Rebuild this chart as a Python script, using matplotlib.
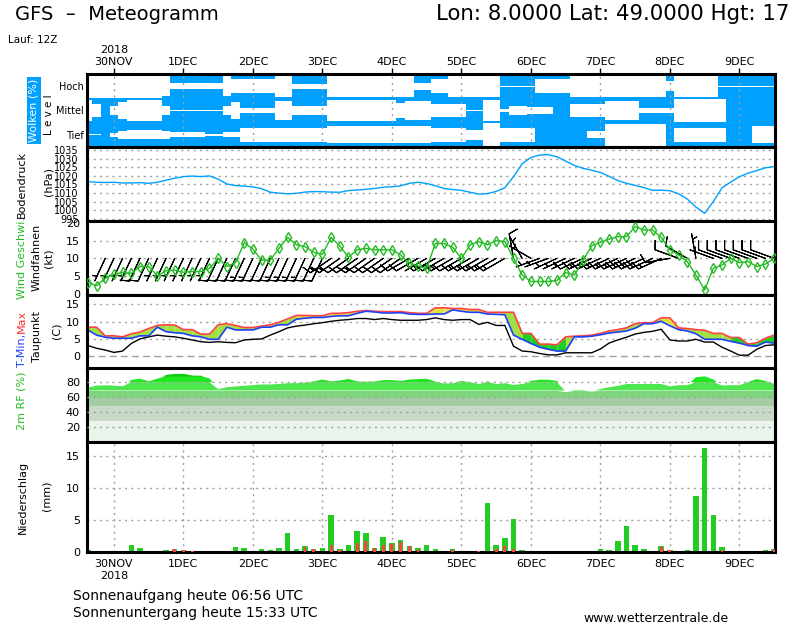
import numpy as np
import matplotlib
matplotlib.use('Agg')
import matplotlib.pyplot as plt
from matplotlib import font_manager

# forecast steps: hours from 30NOV 00Z, 3-hourly (29NOV 15Z .. 9DEC 12Z)
hours = np.arange(-9, 229, 3)
day_ticks = np.arange(0, 217, 24)
day_labels = ['30NOV', '1DEC', '2DEC', '3DEC', '4DEC', '5DEC', '6DEC', '7DEC', '8DEC', '9DEC']

# cloud cover per level (0..1)
cloud_high = [0.05]*9 + [0.2] + [0.75]*6 + [0.2] + [0.45]*5 + [0.1]*2 + [0.8]*4 + [0.12]*10 + \
             [0.7]*2 + [0.45]*2 + [0.1]*6 + [0.95]*4 + [0.45]*4 + [0.1]*11 + [0.6] + [0.15]*5 + [0.95]*7
cloud_mid = [0.1, 0.5, 1.0, 0.65, 0.3] + [0.15]*4 + [0.6] + [0.95]*6 + [0.65, 0.3, 0.8] + [0.8]*3 + \
            [0.25]*2 + [0.65]*4 + [0.15]*8 + [0.4] + [0.2]*3 + [0.45]*4 + [0.95]*2 + [0.1]*2 + [0.9] + \
            [0.6]*2 + [0.7]*3 + [1.0]*2 + [0.45]*4 + [0.25]*4 + [0.8]*4 + [0.05]*6 + [1.0]*6
cloud_low = [0.97]*2 + [1.0, 0.85, 0.65] + [0.62]*4 + [0.65] + [0.8]*4 + [0.9]*2 + [0.8]*2 + [0.45]*6 + \
            [0.4]*4 + [0.3]*8 + [0.3]*4 + [0.4]*4 + [0.6]*2 + [0.05]*2 + [0.4]*4 + [1.0]*6 + [0.7]*2 + \
            [0.1]*7 + [1.0] + [0.45]*6 + [1.0]*3 + [0.3]*3

pressure = [1016.6, 1016.2, 1016.1, 1016.2, 1015.8, 1015.8, 1016.0, 1015.6, 1016.2, 1017.4,
            1018.6, 1019.5, 1019.8, 1019.5, 1019.9, 1018.0, 1015.2, 1014.3, 1014.0, 1013.5,
            1012.5, 1010.4, 1009.9, 1009.5, 1009.8, 1010.5, 1010.8, 1010.7, 1010.5, 1010.4,
            1011.4, 1011.7, 1012.1, 1012.6, 1013.3, 1013.6, 1014.1, 1015.6, 1016.2, 1015.5,
            1014.2, 1012.6, 1012.0, 1011.5, 1010.4, 1009.3, 1009.6, 1010.9, 1013.0, 1019.5,
            1027.0, 1030.6, 1032.0, 1032.3, 1031.0, 1028.5, 1026.0, 1024.3, 1023.2, 1021.9,
            1019.7, 1017.2, 1015.6, 1014.4, 1013.1, 1011.5, 1011.6, 1011.3, 1009.5, 1006.5,
            1001.8, 998.2, 1005.0, 1013.0, 1016.3, 1019.4, 1021.5, 1023.0, 1024.6, 1025.3]

wind_speed = [3.2, 2.3, 4.4, 5.5, 6.1, 5.8, 7.7, 7.7, 5.1, 6.5,
              6.7, 6.1, 6.3, 6.3, 7.2, 10.0, 7.7, 8.8, 14.4, 12.6,
              9.5, 9.5, 12.8, 15.9, 13.8, 13.3, 11.7, 11.1, 15.9, 13.5,
              10.3, 12.4, 12.8, 12.4, 12.4, 12.4, 11.0, 8.6, 7.9, 7.2,
              14.2, 14.2, 13.1, 10.0, 13.8, 14.7, 13.8, 15.0, 14.7, 10.0,
              5.3, 3.5, 3.5, 3.5, 3.8, 6.0, 5.3, 9.4, 13.5, 14.5,
              15.4, 16.1, 16.1, 18.9, 18.0, 18.0, 15.9, 12.4, 11.0, 9.1,
              5.3, 1.1, 7.2, 8.1, 10.0, 8.8, 9.1, 7.7, 8.4, 10.0]
wind_dir = [200]*2 + [205]*26 + [235]*9 + [240]*12 + [350, 330, 300, 250, 250] + [245]*13 + \
           [260, 290, 300, 350, 180] + [290]*8

t_max = [8.4, 8.4, 5.9, 5.9, 5.6, 6.5, 7.0, 8.0, 8.9, 9.1,
         9.0, 7.7, 7.7, 6.4, 6.4, 9.1, 9.4, 8.9, 8.3, 8.3,
         8.7, 9.1, 9.8, 10.8, 11.8, 11.8, 11.7, 11.7, 12.4, 12.4,
         12.6, 13.0, 13.2, 13.0, 12.9, 12.9, 12.9, 12.6, 12.4, 12.4,
         14.0, 14.0, 13.8, 13.8, 13.5, 13.5, 12.7, 12.7, 12.7, 12.7,
         6.6, 6.6, 3.5, 3.5, 3.3, 5.6, 5.8, 5.9, 6.1, 6.6,
         7.3, 7.7, 8.2, 9.4, 9.7, 9.7, 11.1, 11.1, 8.2, 8.0,
         7.7, 7.5, 6.6, 6.6, 5.4, 5.4, 3.5, 3.9, 5.2, 6.1]
t_min = [7.6, 6.1, 5.5, 5.2, 5.2, 5.2, 5.9, 5.9, 8.4, 7.1,
         6.8, 6.6, 5.9, 5.6, 4.9, 4.9, 8.4, 7.6, 7.6, 7.6,
         8.4, 8.4, 9.1, 9.1, 10.7, 11.0, 11.2, 11.2, 11.5, 11.7,
         11.7, 12.4, 13.0, 12.8, 12.5, 12.5, 12.6, 12.2, 12.1, 12.1,
         12.2, 12.2, 13.4, 13.0, 12.7, 12.7, 12.2, 12.1, 12.0, 6.1,
         4.9, 3.7, 2.6, 2.0, 1.5, 1.5, 5.6, 5.6, 5.8, 6.2,
         6.7, 7.0, 7.3, 8.1, 9.4, 9.4, 10.1, 8.8, 7.7, 7.3,
         6.5, 4.9, 4.9, 4.9, 4.3, 3.8, 3.1, 2.9, 4.1, 3.8]
dewpoint = [3.1, 2.3, 1.8, 1.1, 1.5, 3.7, 5.0, 5.6, 6.1, 5.8,
            5.6, 5.2, 4.7, 4.2, 4.0, 4.2, 4.0, 3.9, 4.7, 4.9,
            5.0, 6.1, 7.1, 8.2, 8.7, 9.0, 9.4, 9.7, 10.1, 10.4,
            10.6, 10.9, 10.9, 10.6, 10.9, 10.6, 10.4, 10.4, 10.4, 10.6,
            11.1, 10.6, 10.4, 10.6, 10.6, 9.2, 9.8, 8.9, 8.9, 2.9,
            1.5, 1.3, 0.8, 0.4, 0.4, 1.0, 1.0, 1.0, 1.0, 2.1,
            3.8, 4.7, 5.5, 6.4, 6.9, 7.2, 7.8, 4.7, 4.4, 4.4,
            4.9, 4.1, 4.1, 2.6, 1.5, 0.3, 0.3, 2.0, 3.1, 3.3]
# fill colour between T-Min and T-Max for each 3h interval
t_fill = 'l'*24 + 'y'*24 + 'l'*2 + 'g'*5 + 'l'*11 + 'y'*2 + 'l'*6 + 'g'*5

rel_hum = [72.8, 75.5, 75.8, 75.5, 74.6, 83.0, 84.7, 81.3, 84.7, 90.6,
           91.8, 91.8, 89.5, 89.3, 85.1, 70.6, 73.3, 74.3, 75.3, 76.0,
           77.0, 77.0, 77.6, 78.7, 78.7, 79.5, 81.0, 83.6, 81.0, 82.3,
           84.4, 81.0, 80.7, 81.0, 82.8, 82.8, 81.7, 83.6, 84.2, 84.6,
           81.0, 78.3, 78.7, 81.7, 80.0, 77.6, 81.3, 77.6, 78.6, 76.3,
           77.6, 81.7, 83.3, 83.3, 81.7, 67.5, 69.8, 69.8, 68.2, 70.9,
           73.3, 75.0, 77.6, 77.6, 77.6, 77.6, 77.6, 74.4, 76.0, 76.0,
           86.7, 87.8, 83.6, 75.7, 76.0, 76.0, 80.4, 84.2, 81.7, 78.3]

precip = [0.3, 0, 0, 0, 0, 1.1, 0.65, 0, 0, 0.3,
          0.47, 0.3, 0.1, 0, 0, 0, 0, 0.78, 0.62, 0,
          0.47, 0.31, 0.62, 2.95, 0.47, 0.93, 0.47, 0.62, 5.75, 0.47,
          1.09, 3.32, 2.95, 0.62, 2.33, 1.4, 1.87, 0.93, 0.62, 1.09,
          0.47, 0, 0.47, 0, 0, 0, 7.67, 1.09, 2.18, 5.13,
          0.31, 0, 0, 0, 0, 0, 0, 0, 0, 0.47,
          0.31, 1.71, 4.04, 1.09, 0.47, 0, 0.93, 0.31, 0, 0.31,
          8.71, 16.17, 5.75, 0.78, 0, 0, 0, 0, 0.31, 0.47]
precip_conv = [0, 0, 0, 0, 0, 0, 0, 0, 0, 0,
               0.4, 0.3, 0.1, 0, 0, 0, 0, 0, 0, 0,
               0, 0, 0, 0, 0, 0.72, 0.47, 0, 1.09, 0.31,
               0, 1.35, 1.71, 0.62, 1.04, 1.24, 1.6, 0.93, 0.47, 0,
               0, 0, 0.31, 0, 0, 0.15, 0, 0.47, 0.93, 0.47,
               0, 0, 0, 0, 0, 0, 0, 0, 0, 0,
               0, 0, 0, 0, 0, 0, 0.78, 0.31, 0, 0,
               0, 0, 0, 0.31, 0, 0, 0, 0, 0, 0.47]

# relative humidity colour bands
rh_bands = [(0, 28, '#eaf4ea'), (28, 48, '#c8d9c8'), (48, 60, '#a3cca3'), (60, 69, '#7dd67d'),
            (69, 80, '#4ee64e'), (80, 88, '#1ee81e'), (88, 100, '#10cc10')]

BLUE = '#00a0ff'
GREEN = '#22bb22'
GRID = '#a0a0a0'
DOT = (0, (1.5, 3))

installed = {f.name for f in font_manager.fontManager.ttflist}
NARROW = 'Liberation Sans Narrow' if 'Liberation Sans Narrow' in installed else 'DejaVu Sans'

fig = plt.figure(figsize=(8, 6.25), dpi=100)


def panel(top, bot):
    ax = fig.add_axes([87 / 800, 1 - bot / 625, 688 / 800, (bot - top) / 625])
    ax.set_xlim(-9.3, 228.3)
    for s in ax.spines.values():
        s.set_linewidth(2.2)
    ax.tick_params(axis='y', length=0, pad=5, labelsize=8)
    ax.tick_params(axis='x', length=0, labelbottom=False)
    ax.set_xticks(day_ticks)
    return ax


def hgrid(ax, ticks, zorder=0.5):
    for y in ticks:
        ax.axhline(y, color=GRID, lw=1, ls=DOT, zorder=zorder)


def vgrid(ax, zorder=0.5):
    for x in day_ticks:
        ax.axvline(x, color=GRID, lw=1, ls=DOT, zorder=zorder)


# clouds
ax_c = panel(74, 147)
ax_c.set_facecolor(BLUE)
ax_c.set_ylim(0, 3)
for k, cov in enumerate([cloud_low, cloud_mid, cloud_high]):
    gap = (1 - np.array(cov)) / 2
    ax_c.fill_between(hours, k + 0.5 - gap, k + 0.5 + gap, step='mid', color='white', lw=0)
vgrid(ax_c, zorder=3)
ax_c.set_yticks([0.5, 1.5, 2.5], ['Tief', 'Mittel', 'Hoch'])
ax_c.tick_params(axis='y', pad=2, labelsize=7)
for t in ax_c.get_yticklabels():
    t.set_family(NARROW)
ax_c.xaxis.tick_top()
ax_c.tick_params(axis='x', top=True, labeltop=True, length=4, width=1, direction='out', pad=1, labelsize=8)
ax_c.set_xticklabels(['2018\n30NOV'] + day_labels[1:])

# pressure
ax_p = panel(147, 221)
ax_p.set_ylim(993.7, 1036.7)
hgrid(ax_p, range(995, 1036, 5))
ax_p.plot(hours, pressure, color=BLUE, lw=1)
ax_p.set_yticks(range(995, 1036, 5))
ax_p.tick_params(axis='y', labelsize=7, pad=6)

# wind
ax_w = panel(221, 295)
ax_w.set_ylim(-0.3, 20.5)
hgrid(ax_w, [5, 10, 15])
ws = np.array(wind_speed)
wd = np.radians(wind_dir)
ax_w.barbs(hours, np.full(len(hours), 10.0), -ws * np.sin(wd), -ws * np.cos(wd),
           length=6, lw=0.8, color='k', sizes=dict(emptybarb=0, height=0.35, spacing=0.15), zorder=2)
ax_w.plot(hours, wind_speed, color=GREEN, lw=1, marker='d', ms=5, mfc='none', mec=GREEN, mew=1, zorder=3)
ax_w.set_yticks([0, 5, 10, 15, 20])

# temperature
ax_t = panel(295, 368)
ax_t.set_ylim(-3.4, 17.7)
hgrid(ax_t, [5, 10, 15])
ax_t.axhline(0, color=GRID, lw=1, ls=(0, (5, 3)), zorder=0.5)
fill_cols = {'l': '#a0e040', 'y': '#e0e040', 'g': '#20d020'}
for j, c in enumerate(t_fill):
    ax_t.fill_between(hours[j:j + 2], t_min[j:j + 2], t_max[j:j + 2], color=fill_cols[c], lw=0)
ax_t.plot(hours, dewpoint, color='k', lw=1)
ax_t.plot(hours, t_max, color='#ff4040', lw=1.2)
ax_t.plot(hours, t_min, color='#2040ff', lw=1.2)
ax_t.set_yticks([0, 5, 10, 15])

# relative humidity
ax_r = panel(368, 442)
ax_r.set_ylim(0, 99)
rh = np.array(rel_hum)
for lo, hi, col in rh_bands:
    ax_r.fill_between(hours, lo, np.minimum(rh, hi), where=rh > lo, interpolate=True, color=col, lw=0)
hgrid(ax_r, [20, 40, 60, 80], zorder=3)
ax_r.set_yticks([20, 40, 60, 80])

# precipitation
ax_n = panel(442, 552)
ax_n.set_ylim(0, 17.1)
hgrid(ax_n, [5, 10, 15])
vgrid(ax_n)
ax_n.bar(hours, precip, width=1.9, color='#22cc22', zorder=2)
ax_n.bar(hours, precip_conv, width=1.0, color='#ff4040', zorder=3)
ax_n.set_yticks([0, 5, 10, 15])
ax_n.tick_params(axis='x', labelbottom=True, length=0, pad=5, labelsize=8)
ax_n.set_xticklabels(['30NOV\n2018'] + day_labels[1:])


def ftext(x, y, s, **kw):
    fig.text(x / 800, 1 - y / 625, s, **kw)


ftext(15, 14, 'GFS  –  Meteogramm', fontsize=14, va='center', ha='left')
ftext(436, 14, 'Lon: 8.0000 Lat: 49.0000 Hgt: 17', fontsize=15.3, va='center', ha='left')
ftext(8, 40, 'Lauf: 12Z', fontsize=7.5, va='center')

lab = dict(rotation=90, ha='center', va='center', fontsize=8)
ftext(34, 110.5, 'Wolken (%)', color='white', bbox=dict(boxstyle='square,pad=0.15', fc=BLUE, ec='none'), **lab)
ftext(49, 115, 'L e v e l', rotation=90, ha='center', va='center', fontsize=7.5)
ftext(22, 184, 'Bodendruck', **lab)
ftext(48, 181, '(hPa)', **lab)
ftext(22, 258, 'Wind Geschwi.', color='#22bb22', **lab)
ftext(37, 257, 'Windfahnen', **lab)
ftext(48, 258, '(kt)', **lab)
ftext(22, 350, 'T-Min,', color='#2040ff', rotation=90, ha='center', va='center', fontsize=8)
ftext(22, 321, 'Max', color='#ff3030', rotation=90, ha='center', va='center', fontsize=8)
ftext(37, 336, 'Taupunkt', **lab)
ftext(57, 331, '(C)', **lab)
ftext(22, 401, '2m RF (%)', color='#22bb22', **lab)
ftext(23, 497, 'Niederschlag', **lab)
ftext(46, 496, '(mm)', **lab)

ftext(73, 596, 'Sonnenaufgang heute 06:56 UTC', fontsize=10, va='center')
ftext(73, 613, 'Sonnenuntergang heute 15:33 UTC', fontsize=10, va='center')
ftext(583, 618, 'www.wetterzentrale.de', fontsize=9, va='center')

fig.savefig('out.png', dpi=100)
